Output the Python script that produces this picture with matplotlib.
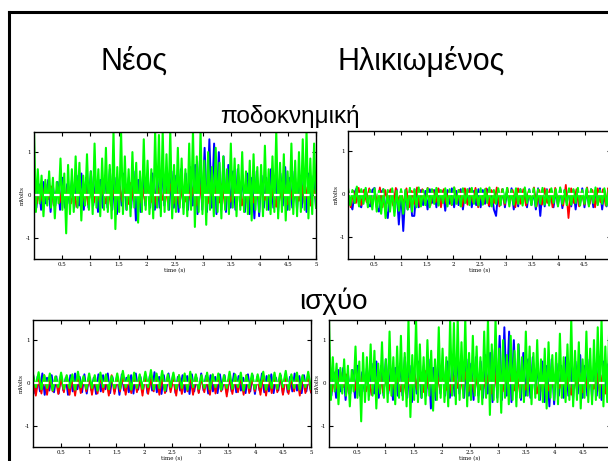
import numpy as np
import matplotlib.pyplot as plt
from matplotlib.lines import Line2D

# Column / row titles
col_titles = ['Νέος', 'Ηλικιωμένος']
row_titles = ['ποδοκνημική', 'ισχύο']

# EMG traces, in hundredths of mV, spread evenly over 0..5 s
# young subject (ankle) - same trace shows again for the old subject (hip)
green_young = [150, -40, 60, -20, 45, -50, 35, -25, 55, -30,
               40, -55, 30, -20, 85, -35, 50, -90, 70, -45,
               60, -40, 90, -30, 75, -60, 45, -25, 95, -35,
               55, -45, 120, -30, 60, -50, 85, -35, 110, -40,
               70, -55, 150, -80, 65, -40, 150, -45, 90, -35,
               60, -50, 100, -30, 75, -65, 55, -40, 130, -35,
               80, -45, 60, -55, 150, -30, 140, -50, 150, -40,
               95, -35, 150, -55, 70, -40, 110, -30, 85, -45,
               60, -50, 120, -35, 150, -75, 90, -40, 150, -45,
               80, -70, 100, -35, 65, -50, 110, -40, 75, -55,
               90, -35, 60, -45, 120, -30, 85, -50, 70, -35,
               100, -40, 55, -45, 80, -60, 95, -35, 65, -40,
               70, -50, 115, -35, 60, -45, 90, -40, 150, -55,
               75, -40, 95, -60, 55, -35, 120, -45, 80, -50,
               100, -40, 130, -35, 150, -55, 85, -45, 120, -30]
blue_young = [45, -30, 25, -35, 30, -20, 35, -40, 20, -25,
              30, -35, 40, -30, 25, -20, 35, -30, 45, -25,
              50, -35, 40, -30, 55, -25, 30, -40, 35, -30,
              45, -30, 60, -35, 40, -45, 30, -25, 50, -35,
              40, -30, 55, -60, 35, -40, 45, -25, 40, -30,
              50, -35, 45, -30, 60, -25, 40, -35, 55, -30,
              45, -40, 60, -30, 50, -35, 65, -25, 70, -45,
              80, -35, 110, -40, 130, -30, 120, -45, 100, -35,
              90, -40, 70, -30, 55, -35, 60, -25, 45, -40,
              50, -45, 40, -55, 55, -50, 45, -30, 40, -35,
              60, -30, 45, -40, 50, -25, 65, -35, 40, -30,
              55, -35, 45, -30, 60, -40, 50, -25, 45, -30]
red_young = [15, -20, 10, -15, 25, -10, 20, -25, 12, -18,
             18, -12, 22, -20, 10, -28, 15, -14, 20, -22,
             12, -18, 25, -15, 14, -20, 18, -25, 10, -12,
             20, -16, 15, -22, 28, -14, 12, -20, 18, -15,
             22, -18, 14, -25, 16, -12, 20, -18, 25, -20,
             15, -22, 12, -16, 20, -14, 18, -25, 30, -15,
             14, -20, 22, -12, 16, -18, 25, -22, 12, -16,
             18, -14, 20, -25, 15, -20, 12, -18, 22, -15,
             16, -12, 25, -20, 14, -28, 18, -15, 20, -22,
             12, -18, 15, -14, 22, -20, 18, -25, 16, -12]

# old subject (ankle)
blue_old = [10, -20, -35, 5, 15, -25, -30, 8, 12, -22,
            -28, 10, 15, -30, -40, 5, 12, -35, -55, 8,
            10, -40, 12, -70, 8, -85, 10, -35, 12, -50,
            -50, 12, -30, 10, -25, 8, -35, 12, -20, 10,
            -30, 12, -25, 8, -38, 10, -22, 14, -30, 8,
            -25, 12, -35, 10, -20, 14, -30, 8, -25, 12,
            -30, 10, -22, 12, -28, 8, -35, -50, 10, -25,
            12, -30, 10, -22, 14, -35, 8, -28, 12, -20,
            10, -30, 12, -25, 8, -35, 14, -50, 10, -28,
            12, -22, 10, -30, 8, -25, 14, -32, 10, -20,
            12, -28, 10, -35, 8, -22, 14, -30, 10, -25,
            12, -30, 8, -22, 14, -35, 10, -28, 12, -20]
red_old = [12, -30, 8, -20, 15, -25, 10, -18, 14, -28,
           8, -22, 16, -30, 10, -20, 12, -26, 15, -18,
           10, -25, 14, -30, 8, -22, 16, -28, 12, -20,
           15, -26, 10, -18, 14, -30, 12, -22, 8, -25,
           16, -20, 10, -28, 14, -24, 12, -18, 15, -30,
           8, -22, 14, -26, 10, -20, 16, -28, 12, -24,
           15, -18, 10, -30, 14, -22, 12, -26, 8, -20,
           16, -28, 10, -24, 14, -20, 12, -30, 15, -22,
           10, -26, 22, -55, 14, -20, 12, -28, 8, -24,
           16, -22, 10, -30, 14, -18, 12, -26, 15, -20]
green_old = [15, -25, 10, -20, 18, -28, 12, -22, 15, -30,
             10, -35, 14, -40, 8, -45, 12, -55, 10, -40,
             14, -50, 8, -38, 12, -45, 10, -35, 15, -40,
             12, -30, 16, -28, 10, -25, 14, -30, 12, -22,
             15, -26, 10, -20, 14, -28, 12, -24, 16, -22,
             10, -28, 14, -20, 12, -25, 15, -22, 10, -26,
             14, -24, 12, -20, 16, -28, 10, -22, 14, -25,
             12, -20, 15, -28, 10, -24, 14, -22, 12, -26,
             16, -20, 10, -25, 14, -28, 12, -22, 15, -24,
             10, -26, 14, -20, 12, -28, 16, -22, 10, -25,
             14, -24, 12, -20, 15, -26, 10, -22, 14, -28,
             12, -20, 16, -25, 10, -22, 14, -26, 12, -20]

# young subject (hip)
blue_hip = [20, -25, 15, -20, 22, -28, 12, -18, 18, -22,
            15, -25, 20, -18, 12, -28, 18, -20, 22, -15,
            14, -22, 20, -25, 16, -18, 12, -26, 20, -20,
            18, -15, 22, -24, 14, -20, 16, -28, 20, -18,
            12, -22, 18, -25, 22, -16, 14, -20, 20, -24,
            16, -18, 25, -22, 14, -26, 18, -20, 22, -15,
            20, -24, 14, -18, 18, -22, 16, -26, 20, -20,
            12, -22, 22, -18, 16, -25, 18, -20, 14, -24,
            20, -16, 18, -26, 14, -20, 22, -22, 16, -18,
            12, -24, 20, -20, 18, -26, 14, -18, 22, -22,
            16, -20, 20, -24, 12, -18, 18, -26, 20, -22,
            14, -20, 22, -18, 16, -24, 18, -20, 12, -22]
red_hip = [15, -30, 10, -25, 18, -28, 12, -20, 14, -26,
           10, -22, 16, -28, 12, -30, 18, -24, 10, -20,
           14, -28, 12, -25, 16, -22, 10, -30, 18, -26,
           12, -20, 15, -28, 10, -24, 16, -22, 12, -30,
           18, -26, 10, -20, 14, -28, 12, -24, 16, -22,
           10, -30, 18, -26, 12, -20, 14, -28, 16, -24,
           12, -22, 10, -28, 18, -25, 14, -20, 12, -32,
           16, -26, 10, -22, 14, -28, 18, -24, 12, -20,
           10, -28, 16, -30, 12, -24, 14, -22, 18, -28,
           12, -26, 10, -20, 16, -30, 14, -24, 12, -22]
green_hip = [20, -10, 25, -15, 18, -12, 22, -18, 15, -10,
             24, -14, 18, -12, 20, -16, 26, -10, 16, -14,
             22, -12, 18, -18, 24, -10, 20, -15, 16, -12,
             22, -14, 28, -10, 18, -16, 24, -12, 20, -14,
             26, -10, 30, -15, 22, -12, 28, -18, 20, -10,
             24, -14, 18, -12, 22, -16, 26, -10, 20, -14,
             18, -12, 24, -15, 20, -10, 22, -16, 18, -12,
             26, -14, 20, -10, 24, -18, 18, -12, 22, -14,
             20, -10, 26, -16, 18, -12, 24, -14, 22, -10,
             28, -15, 20, -12, 24, -16, 18, -10, 26, -14]

mean_level = 0.0
xticks = [0.5, 1, 1.5, 2, 2.5, 3, 3.5, 4, 4.5, 5]
xticklabels = ['0.5', '1', '1.5', '2', '2.5', '3', '3.5', '4', '4.5', '5']
yticks = [-1, 0, 1]


def draw_panel(ax, blue, red, green, cut_right=False):
    for vals, col, lw in [(blue, 'blue', 1.4), (red, 'red', 1.3), (green, '#00ff00', 1.5)]:
        y = np.array(vals) / 100.0
        t = np.linspace(0, 5, len(y))
        ax.plot(t, y, color=col, lw=lw)
    ax.axhline(mean_level, color='white', lw=1.6, ls=(0, (2.5, 2)))
    ax.set_xlim(0, 5)
    ax.set_ylim(-1.5, 1.47)
    ax.set_xticks(xticks)
    labels = list(xticklabels)
    if cut_right:
        # last label falls past the slide edge
        labels[-1] = ''
    ax.set_xticklabels(labels)
    ax.set_yticks(yticks)
    ax.set_yticklabels(['-1', '0', '1'])
    ax.tick_params(direction='in', length=3, width=0.8, top=True, right=True,
                   labelsize=4, pad=2)
    for lab in ax.get_xticklabels() + ax.get_yticklabels():
        lab.set_family('DejaVu Serif')
    ax.set_xlabel('time (s)', fontsize=4, family='DejaVu Serif', labelpad=1)
    ax.set_ylabel('mVolts', fontsize=4, family='DejaVu Serif', labelpad=1)
    for s in ax.spines.values():
        s.set_linewidth(1.0)


W, H = 608, 461
fig = plt.figure(figsize=(W / 100, H / 100), dpi=100)


def px_axes(x0, y0, x1, y1):
    return fig.add_axes([x0 / W, (H - y1) / H, (x1 - x0) / W, (y1 - y0) / H])


ax_tl = px_axes(34, 132, 316, 259)
ax_tr = px_axes(348, 131, 611, 259)
ax_bl = px_axes(33, 320, 311, 447)
ax_br = px_axes(329, 320, 611, 447)

draw_panel(ax_tl, blue_young, red_young, green_young)
draw_panel(ax_tr, blue_old, red_old, green_old, cut_right=True)
draw_panel(ax_bl, blue_hip, red_hip, green_hip)
draw_panel(ax_br, blue_young, red_young, green_young, cut_right=True)

fam = ['Liberation Sans', 'DejaVu Sans']
fig.text(134 / W, (H - 70) / H, col_titles[0], ha='center', va='baseline', fontsize=22, family=fam)
fig.text(421 / W, (H - 70) / H, col_titles[1], ha='center', va='baseline', fontsize=22, family=fam)
fig.text(289.5 / W, (H - 123) / H, row_titles[0], ha='center', va='baseline', fontsize=17.5, family=fam)
fig.text(333 / W, (H - 309) / H, row_titles[1], ha='center', va='baseline', fontsize=20, family=fam)

# slide frame
fig.add_artist(Line2D([9 / W, 9 / W], [0, (H - 12) / H], color='black', lw=2.2,
                      transform=fig.transFigure, solid_capstyle='projecting'))
fig.add_artist(Line2D([9 / W, 1], [(H - 12) / H, (H - 12) / H], color='black', lw=2.2,
                      transform=fig.transFigure, solid_capstyle='projecting'))

fig.savefig('out.png', dpi=100)
